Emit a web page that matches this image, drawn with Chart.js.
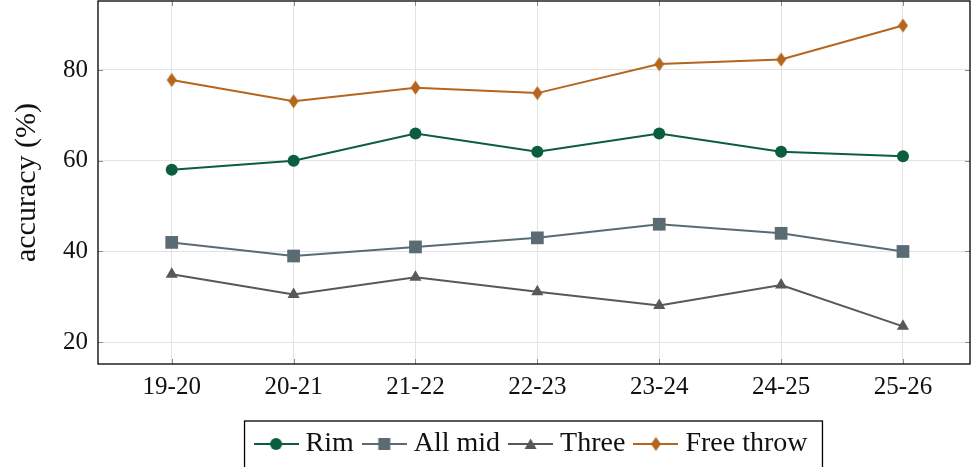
<!DOCTYPE html>
<html lang="en">
<head>
    <meta charset="UTF-8">
    <title>Shooting accuracy</title>
    <script src="https://cdn.jsdelivr.net/npm/chart.js"></script>
    <style>
        html, body { margin: 0; padding: 0; background: #fff; }
    </style>
</head>
<body>
    <canvas id="accChart" width="971" height="467"></canvas>

    <script>
        const seasons = ['19-20', '20-21', '21-22', '22-23', '23-24', '24-25', '25-26'];
        const yTicks = [20, 40, 60, 80];
        const rim = [58, 60, 66, 62, 66, 62, 61];
        const allMid = [42, 39, 41, 43, 46, 44, 40];
        const three = [35, 30.5, 34.3, 31.1, 28.1, 32.6, 23.5];
        const freeThrow = [77.8, 73.1, 76.1, 74.9, 81.3, 82.3, 89.8];

        const FONT = '"Liberation Serif", "DejaVu Serif", serif';

        // tall narrow diamond for the free throw marker
        function diamond(color) {
            const c = document.createElement('canvas');
            c.width = 11; c.height = 15;
            const g = c.getContext('2d');
            g.fillStyle = color;
            g.beginPath();
            g.moveTo(5.5, 0.5); g.lineTo(10.5, 7.5); g.lineTo(5.5, 14.5); g.lineTo(0.5, 7.5);
            g.closePath(); g.fill();
            return c;
        }

        // legend sample: short line with the marker in the middle
        function legendIcon(color, shape) {
            const c = document.createElement('canvas');
            c.width = 45; c.height = 16;
            const g = c.getContext('2d');
            g.strokeStyle = color; g.fillStyle = color; g.lineWidth = 2;
            g.beginPath(); g.moveTo(0, 8); g.lineTo(45, 8); g.stroke();
            g.beginPath();
            if (shape === 'circle') g.arc(22.5, 8, 6, 0, Math.PI * 2);
            else if (shape === 'rect') g.rect(16.5, 2, 12, 12);
            else if (shape === 'triangle') { g.moveTo(22.5, 2.5); g.lineTo(28.5, 13); g.lineTo(16.5, 13); g.closePath(); }
            else { g.moveTo(22.5, 1); g.lineTo(27.5, 8); g.lineTo(22.5, 15); g.lineTo(17.5, 8); g.closePath(); }
            g.fill();
            return c;
        }

        const series = [
            { label: 'Rim', values: rim, color: '#0b5e3d', style: 'circle', radius: 6 },
            { label: 'All mid', values: allMid, color: '#5a6b74', style: 'rect', radius: 9 },
            { label: 'Three', values: three, color: '#585858', style: 'triangle', radius: 7 },
            { label: 'Free throw', values: freeThrow, color: '#b5651d', style: 'diamond', radius: 7 }
        ];

        const datasets = series.map(s => ({
            label: s.label,
            data: s.values.map((v, i) => ({ x: i, y: v })),
            borderColor: s.color,
            backgroundColor: s.color,
            borderWidth: 2,
            pointStyle: s.style === 'diamond' ? diamond(s.color) : s.style,
            pointRadius: s.radius,
            pointBorderWidth: 0,
            legendIcon: legendIcon(s.color, s.style),
            tension: 0
        }));

        // frame, inward tick marks and legend border
        const framePlugin = {
            id: 'frame',
            afterDraw(chart) {
                const ctx = chart.ctx;
                const a = chart.chartArea;
                const xs = chart.scales.x, ys = chart.scales.y;
                ctx.save();
                ctx.strokeStyle = '#8c8c8c';
                ctx.lineWidth = 1;
                ctx.beginPath();
                xs.ticks.forEach(t => {
                    const px = Math.round(xs.getPixelForValue(t.value)) + 0.5;
                    ctx.moveTo(px, a.bottom); ctx.lineTo(px, a.bottom - 5);
                    ctx.moveTo(px, a.top); ctx.lineTo(px, a.top + 5);
                });
                ys.ticks.forEach(t => {
                    const py = Math.round(ys.getPixelForValue(t.value)) + 0.5;
                    ctx.moveTo(a.left, py); ctx.lineTo(a.left + 5, py);
                    ctx.moveTo(a.right, py); ctx.lineTo(a.right - 5, py);
                });
                ctx.stroke();
                ctx.strokeStyle = '#000';
                ctx.lineWidth = 1.3;
                ctx.strokeRect(a.left, a.top, a.right - a.left, a.bottom - a.top);

                const lg = chart.legend;
                if (lg && lg.legendHitBoxes && lg.legendHitBoxes.length) {
                    const boxes = lg.legendHitBoxes;
                    const l = Math.min(...boxes.map(b => b.left)) - 16;
                    const r = Math.max(...boxes.map(b => b.left + b.width)) + 15;
                    ctx.strokeStyle = '#000';
                    ctx.lineWidth = 1.3;
                    ctx.strokeRect(l, 421, r - l, 60);
                }
                ctx.restore();
            }
        };

        const legendHeight = {
            id: 'legendHeight',
            beforeInit(chart) {
                const fit = chart.legend.fit;
                chart.legend.fit = function () {
                    fit.bind(chart.legend)();
                    this.height = 52;
                };
            }
        };

        function noPadding(scale) {
            scale.paddingTop = 0; scale.paddingBottom = 0;
            scale.paddingLeft = 0; scale.paddingRight = 0;
        }

        const ctx = document.getElementById('accChart').getContext('2d');
        new Chart(ctx, {
            type: 'line',
            data: { datasets: datasets },
            plugins: [legendHeight, framePlugin],
            options: {
                responsive: false,
                animation: false,
                layout: { autoPadding: false, padding: { top: 1, right: 1, left: 0, bottom: 0 } },
                scales: {
                    x: {
                        type: 'linear',
                        min: -0.605,
                        max: 6.55,
                        afterFit(scale) { scale.height = 51; noPadding(scale); },
                        afterBuildTicks(scale) { scale.ticks = seasons.map((s, i) => ({ value: i })); },
                        ticks: {
                            autoSkip: false,
                            maxRotation: 0,
                            padding: 8,
                            color: '#111',
                            font: { family: FONT, size: 25 },
                            callback: v => seasons[v]
                        },
                        grid: { color: '#e3e3e3', drawTicks: false },
                        border: { display: false }
                    },
                    y: {
                        min: 15.2,
                        max: 95.2,
                        afterFit(scale) { scale.width = 98; noPadding(scale); },
                        afterBuildTicks(scale) { scale.ticks = yTicks.map(v => ({ value: v })); },
                        ticks: {
                            padding: 10,
                            color: '#111',
                            font: { family: FONT, size: 25 }
                        },
                        grid: { color: '#e3e3e3', drawTicks: false },
                        border: { display: false },
                        title: {
                            display: true,
                            text: 'accuracy (%)',
                            color: '#111',
                            padding: { top: 9, bottom: 4 },
                            font: { family: FONT, size: 30 }
                        }
                    }
                },
                plugins: {
                    tooltip: { enabled: false },
                    legend: {
                        position: 'bottom',
                        fullSize: false,
                        labels: {
                            usePointStyle: true,
                            pointStyleWidth: 31,
                            padding: 15,
                            color: '#111',
                            font: { family: FONT, size: 28 },
                            generateLabels(chart) {
                                return chart.data.datasets.map((d, i) => ({
                                    text: d.label,
                                    pointStyle: d.legendIcon,
                                    fillStyle: d.borderColor,
                                    strokeStyle: d.borderColor,
                                    lineWidth: 0,
                                    fontColor: '#111',
                                    datasetIndex: i,
                                    hidden: false
                                }));
                            }
                        }
                    }
                }
            }
        });
    </script>
</body>
</html>
